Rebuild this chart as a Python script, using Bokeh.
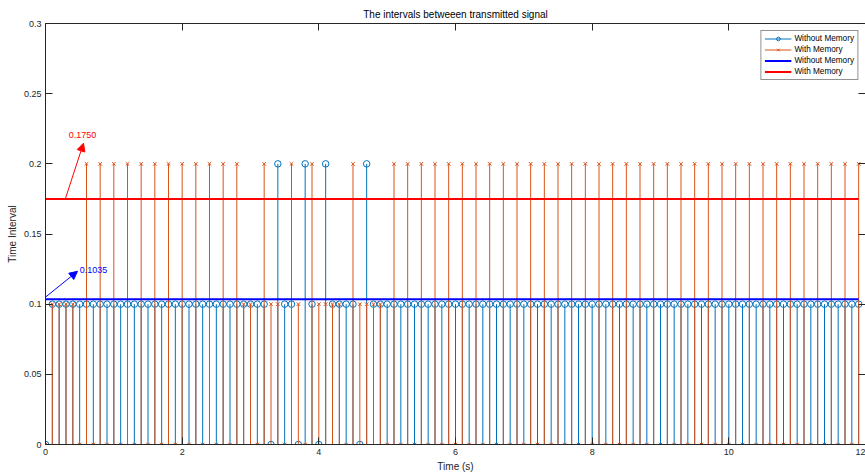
from bokeh.plotting import figure
from bokeh.models import (LinearAxis, FixedTicker, Range1d, Label, Arrow, NormalHead,
                          Legend, LegendItem, ColumnDataSource)
from bokeh.embed import file_html
from bokeh.resources import INLINE

# ---------------- data ----------------
time_s = [
    0.0, 0.1, 0.2, 0.3, 0.4, 0.5, 0.6, 0.7, 0.8, 0.9,
    1.0, 1.1, 1.2, 1.3, 1.4, 1.5, 1.6, 1.7, 1.8, 1.9,
    2.0, 2.1, 2.2, 2.3, 2.4, 2.5, 2.6, 2.7, 2.8, 2.9,
    3.0, 3.1, 3.2, 3.3, 3.4, 3.5, 3.6, 3.7, 3.8, 3.9,
    4.0, 4.1, 4.2, 4.3, 4.4, 4.5, 4.6, 4.7, 4.8, 4.9,
    5.0, 5.1, 5.2, 5.3, 5.4, 5.5, 5.6, 5.7, 5.8, 5.9,
    6.0, 6.1, 6.2, 6.3, 6.4, 6.5, 6.6, 6.7, 6.8, 6.9,
    7.0, 7.1, 7.2, 7.3, 7.4, 7.5, 7.6, 7.7, 7.8, 7.9,
    8.0, 8.1, 8.2, 8.3, 8.4, 8.5, 8.6, 8.7, 8.8, 8.9,
    9.0, 9.1, 9.2, 9.3, 9.4, 9.5, 9.6, 9.7, 9.8, 9.9,
    10.0, 10.1, 10.2, 10.3, 10.4, 10.5, 10.6, 10.7, 10.8, 10.9,
    11.0, 11.1, 11.2, 11.3, 11.4, 11.5, 11.6, 11.7, 11.8, 11.9,
]

interval_without_memory = [
    0.0, 0.1, 0.1, 0.1, 0.1, 0.1, 0.1, 0.1, 0.1, 0.1,
    0.1, 0.1, 0.1, 0.1, 0.1, 0.1, 0.1, 0.1, 0.1, 0.1,
    0.1, 0.1, 0.1, 0.1, 0.1, 0.1, 0.1, 0.1, 0.1, 0.1,
    0.1, 0.1, 0.1, 0.0, 0.2, 0.1, 0.1, 0.0, 0.2, 0.1,
    0.0, 0.2, 0.1, 0.1, 0.1, 0.1, 0.0, 0.2, 0.1, 0.1,
    0.1, 0.1, 0.1, 0.1, 0.1, 0.1, 0.1, 0.1, 0.1, 0.1,
    0.1, 0.1, 0.1, 0.1, 0.1, 0.1, 0.1, 0.1, 0.1, 0.1,
    0.1, 0.1, 0.1, 0.1, 0.1, 0.1, 0.1, 0.1, 0.1, 0.1,
    0.1, 0.1, 0.1, 0.1, 0.1, 0.1, 0.1, 0.1, 0.1, 0.1,
    0.1, 0.1, 0.1, 0.1, 0.1, 0.1, 0.1, 0.1, 0.1, 0.1,
    0.1, 0.1, 0.1, 0.1, 0.1, 0.1, 0.1, 0.1, 0.1, 0.1,
    0.1, 0.1, 0.1, 0.1, 0.1, 0.1, 0.1, 0.1, 0.1, 0.1,
]

interval_with_memory = [
    0.0, 0.1, 0.1, 0.1, 0.1, 0.0, 0.2, 0.0, 0.2, 0.0,
    0.2, 0.0, 0.2, 0.0, 0.2, 0.0, 0.2, 0.0, 0.2, 0.0,
    0.2, 0.0, 0.2, 0.0, 0.2, 0.0, 0.2, 0.0, 0.2, 0.1,
    0.1, 0.0, 0.2, 0.1, 0.1, 0.0, 0.2, 0.1, 0.0, 0.2,
    0.1, 0.1, 0.1, 0.1, 0.0, 0.2, 0.1, 0.1, 0.1, 0.1,
    0.0, 0.2, 0.0, 0.2, 0.0, 0.2, 0.0, 0.2, 0.0, 0.2,
    0.0, 0.2, 0.0, 0.2, 0.0, 0.2, 0.0, 0.2, 0.0, 0.2,
    0.0, 0.2, 0.0, 0.2, 0.0, 0.2, 0.0, 0.2, 0.0, 0.2,
    0.0, 0.2, 0.0, 0.2, 0.0, 0.2, 0.0, 0.2, 0.0, 0.2,
    0.0, 0.2, 0.0, 0.2, 0.0, 0.2, 0.0, 0.2, 0.0, 0.2,
    0.0, 0.2, 0.0, 0.2, 0.0, 0.2, 0.0, 0.2, 0.0, 0.2,
    0.0, 0.2, 0.0, 0.2, 0.0, 0.2, 0.0, 0.2, 0.0, 0.2,
]

mean_without_memory = 0.1035
mean_with_memory = 0.1750
mean_without_label = "0.1035"
mean_with_label = "0.1750"

x_ticks = [0, 2, 4, 6, 8, 10, 12]
x_tick_labels = ["0", "2", "4", "6", "8", "10", "12"]
y_ticks = [0, 0.05, 0.1, 0.15, 0.2, 0.25, 0.3]
y_tick_labels = ["0", "0.05", "0.1", "0.15", "0.2", "0.25", "0.3"]

# ---------------- styling ----------------
FONT = "Liberation Sans"
AXIS_COLOR = "#262626"
BLUE = "#0072BD"
ORANGE = "#D95319"

zeros = [0.0 for _ in time_s]
src = ColumnDataSource(dict(t=time_s, base=zeros,
                            wo=interval_without_memory, w=interval_with_memory))

p = figure(width=865, height=475, output_backend="svg", toolbar_location=None,
           x_range=Range1d(0, 12), y_range=Range1d(0, 0.3),
           title="The intervals betweeen transmitted signal",
           min_border_left=45, min_border_right=0, min_border_top=23, min_border_bottom=31)
p.title.align = "center"
p.title.text_font = FONT
p.title.text_font_size = "10px"
p.title.text_font_style = "normal"
p.title.text_color = "#000000"
p.title.standoff = 8
p.title.offset = 0
p.outline_line_color = None
p.xgrid.visible = False
p.ygrid.visible = False
p.background_fill_color = "white"
p.border_fill_color = "white"

# stems: without memory
seg_wo = p.segment(x0="t", y0="base", x1="t", y1="wo", source=src,
                   line_color=BLUE, line_width=1)
mk_wo = p.scatter(x="t", y="wo", source=src, marker="circle", size=6.5,
                  line_color=BLUE, fill_color=None, line_width=1)
# stems: with memory
seg_w = p.segment(x0="t", y0="base", x1="t", y1="w", source=src,
                  line_color=ORANGE, line_width=1)
mk_w = p.scatter(x="t", y="w", source=src, marker="x", size=5,
                 line_color=ORANGE, line_width=1)

# mean lines
ln_wo = p.line(x=[time_s[0], time_s[-1]], y=[mean_without_memory, mean_without_memory],
               line_color="#0000FF", line_width=2)
ln_w = p.line(x=[time_s[0], time_s[-1]], y=[mean_with_memory, mean_with_memory],
              line_color="#FF0000", line_width=2)

# axes
def style_axis(ax, ticks, labels=None):
    ax.ticker = FixedTicker(ticks=ticks)
    ax.minor_tick_line_color = None
    ax.major_tick_in = 7
    ax.major_tick_out = 0
    ax.axis_line_color = AXIS_COLOR
    ax.major_tick_line_color = AXIS_COLOR
    ax.major_label_text_color = AXIS_COLOR
    ax.major_label_text_font = FONT
    ax.major_label_text_font_size = "9px"
    ax.axis_label_text_font = FONT
    ax.axis_label_text_font_style = "normal"
    ax.axis_label_text_color = AXIS_COLOR
    ax.axis_label_text_font_size = "10px"
    if labels is not None:
        ax.major_label_overrides = {t: l for t, l in zip(ticks, labels)}
    else:
        ax.major_label_overrides = {t: "" for t in ticks}
        ax.major_label_standoff = 0
        ax.axis_label_standoff = 0

xa = p.xaxis[0]
style_axis(xa, x_ticks, x_tick_labels)
xa.axis_label = "Time (s)"
xa.major_label_standoff = 4
xa.axis_label_standoff = 3

ya = p.yaxis[0]
style_axis(ya, y_ticks, y_tick_labels)
ya.axis_label = "Time Interval"
ya.major_label_standoff = 4
ya.axis_label_standoff = 3

top_ax = LinearAxis()
style_axis(top_ax, x_ticks)
p.add_layout(top_ax, "above")
right_ax = LinearAxis()
style_axis(right_ax, y_ticks)
p.add_layout(right_ax, "right")

# annotations (arrows + labels)
p.add_layout(Arrow(end=NormalHead(size=8, fill_color="#FF0000", line_color="#FF0000", line_width=1),
                   x_start=0.29, y_start=mean_with_memory, x_end=0.556, y_end=0.2147,
                   line_color="#FF0000", line_width=1))
p.add_layout(Label(x=0.34, y=0.2204, text=mean_with_label, text_align="left",
                   text_baseline="middle", text_font=FONT, text_font_size="9px",
                   text_color="#FF0000"))
p.add_layout(Arrow(end=NormalHead(size=8, fill_color="#0000FF", line_color="#0000FF", line_width=1),
                   x_start=0.0, y_start=0.105, x_end=0.468, y_end=0.1234,
                   line_color="#0000FF", line_width=1))
p.add_layout(Label(x=0.50, y=0.1246, text=mean_without_label, text_align="left",
                   text_baseline="middle", text_font=FONT, text_font_size="9px",
                   text_color="#0000FF"))

legend = Legend(items=[
    LegendItem(label="Without Memory", renderers=[seg_wo, mk_wo]),
    LegendItem(label="With Memory", renderers=[seg_w, mk_w]),
    LegendItem(label="Without Memory", renderers=[ln_wo]),
    LegendItem(label="With Memory", renderers=[ln_w]),
], location="top_right")
legend.margin = 7
legend.padding = 3
legend.spacing = 2
legend.glyph_width = 27
legend.glyph_height = 9
legend.label_height = 9
legend.label_standoff = 3
legend.label_text_font = FONT
legend.label_text_font_size = "8.2px"
legend.label_text_color = "#000000"
legend.border_line_color = AXIS_COLOR
legend.border_line_width = 1
legend.background_fill_color = "white"
legend.background_fill_alpha = 1
p.add_layout(legend)

open("out.html", "w").write(file_html(p, INLINE))
